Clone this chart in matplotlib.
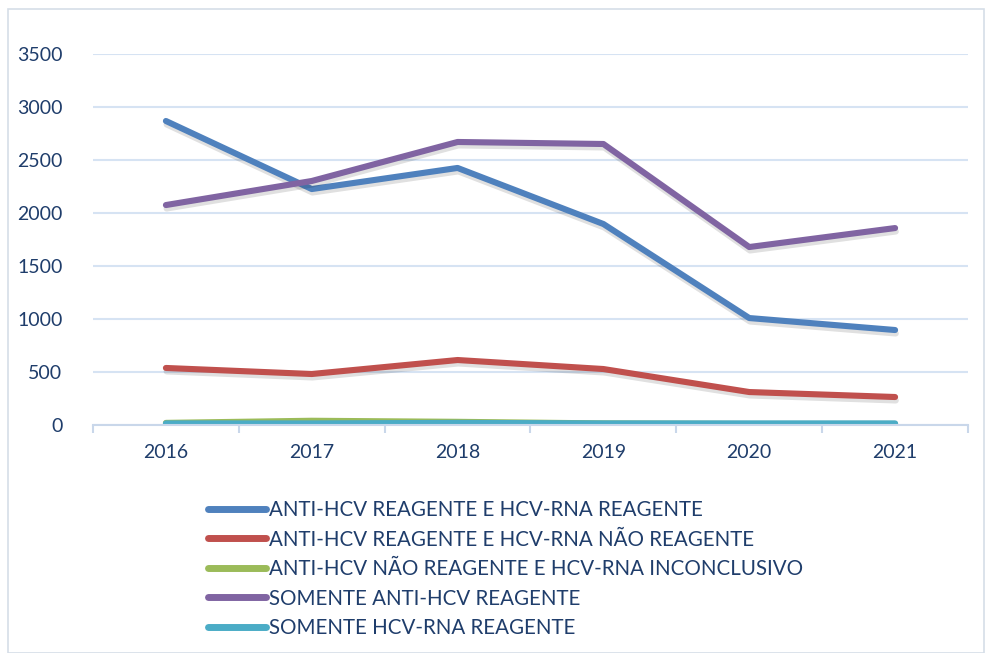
import matplotlib
matplotlib.use("Agg")
import matplotlib.pyplot as plt
import matplotlib.patheffects as pe
from matplotlib.patches import Rectangle

years = ["2016", "2017", "2018", "2019", "2020", "2021"]
reag_reag = [2868, 2226, 2425, 1896, 1009, 896]
reag_nao = [538, 481, 613, 528, 311, 264]
nao_inconc = [20, 40, 30, 15, 10, 10]
somente_anti = [2075, 2302, 2670, 2651, 1679, 1858]
somente_rna = [15, 15, 20, 15, 15, 15]

labels = ["ANTI-HCV REAGENTE E HCV-RNA REAGENTE",
          "ANTI-HCV REAGENTE E HCV-RNA NÃO REAGENTE",
          "ANTI-HCV NÃO REAGENTE E HCV-RNA INCONCLUSIVO",
          "SOMENTE ANTI-HCV REAGENTE",
          "SOMENTE HCV-RNA REAGENTE"]
colors = ["#4F81BD", "#C0504D", "#9BBB59", "#8064A2", "#4BACC6"]
txt = "#1F3D6B"

plt.rcParams['font.family'] = ['Lato', 'DejaVu Sans']

fig = plt.figure(figsize=(9.86, 6.53), dpi=100)
fig.patches.append(Rectangle((8 / 986, 0), 976 / 986, 1 - 9 / 653, transform=fig.transFigure,
                             fill=False, edgecolor="#D5DEE8", linewidth=1.2))
ax = fig.add_axes([93 / 986, 1 - 425 / 653, 875 / 986, 371 / 653])

x = range(len(years))
series = [reag_reag, reag_nao, nao_inconc, somente_anti, somente_rna]
for vals, lab, c in zip(series, labels, colors):
    ax.plot(x, vals, color=c, linewidth=4.4, solid_capstyle='round', solid_joinstyle='round',
            label=lab, path_effects=[pe.SimpleLineShadow(offset=(0.5, -2.5), alpha=0.12, shadow_color='k'),
                                     pe.Normal()])

ax.set_xlim(-0.5, len(years) - 0.5)
ax.set_ylim(0, 3500)
ax.set_yticks(range(0, 3501, 500))
ax.set_xticks(list(x))
ax.set_xticklabels(years)
ax.set_xticks([i - 0.5 for i in range(len(years) + 1)], minor=True)
ax.grid(axis='y', color="#D6E3F3", linewidth=1.5)
ax.set_axisbelow(True)
for s in ['top', 'right', 'left']:
    ax.spines[s].set_visible(False)
ax.spines['bottom'].set_color("#C9D7EA")
ax.spines['bottom'].set_linewidth(1.5)
ax.tick_params(axis='y', length=0, pad=22, labelsize=14, labelcolor=txt)
ax.tick_params(axis='x', which='major', length=0, pad=14, labelsize=14, labelcolor=txt)
ax.tick_params(axis='x', which='minor', length=6, width=1.5, color="#C9D7EA")

leg = fig.legend(loc='upper left', bbox_to_anchor=(200 / 986, 1 - 492 / 653), frameon=False,
                 fontsize=14.8, handlelength=2.8, handletextpad=0.15, labelspacing=0.46,
                 borderaxespad=0, labelcolor=txt)
for h in leg.get_lines():
    h.set_linewidth(5)
    h.set_path_effects([])

fig.savefig("out.png", dpi=100)
